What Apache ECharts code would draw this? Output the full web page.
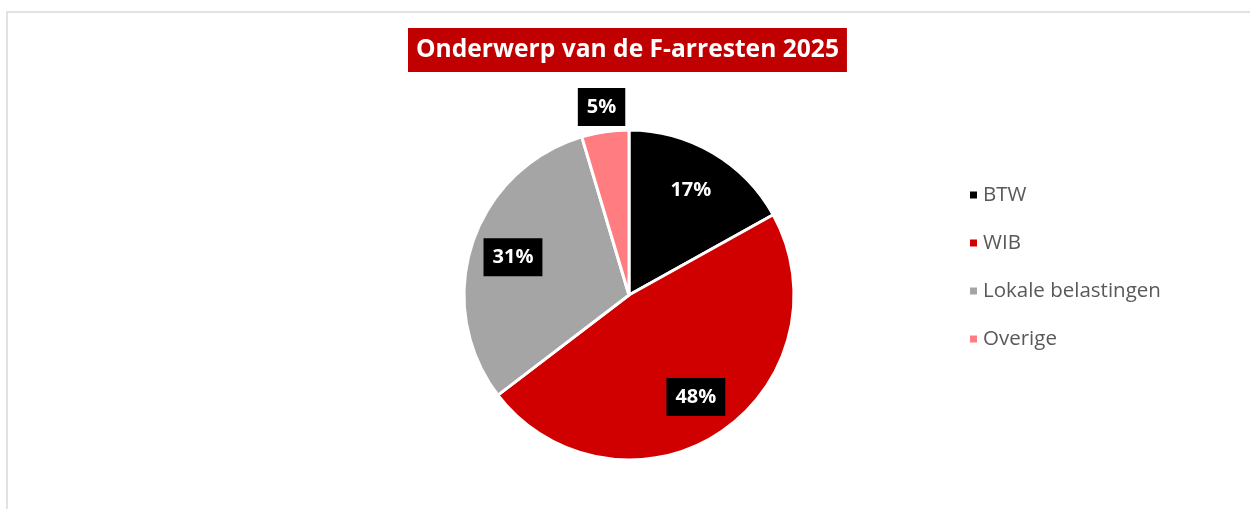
<!DOCTYPE html>
<html>
<head>
<meta charset="utf-8">
<script src="https://cdn.jsdelivr.net/npm/echarts@6/dist/echarts.min.js"></script>
<style>
  html, body { margin: 0; padding: 0; background: #fff; }
  #chart { width: 1250px; height: 509px; }
</style>
</head>
<body>
<div id="chart"></div>
<script>
const categories = ['BTW', 'WIB', 'Lokale belastingen', 'Overige']
const counts = [11, 31, 20, 3]
const colors = ['#000000', '#d00000', '#a5a5a5', '#ff7c80']

const chart = echarts.init(document.getElementById('chart'))

// labels of the big slices sit at ~0.74r, the small one just outside the pie
const data = categories.map((name, i) => {
  const outside = name === 'Overige'
  return {
    name,
    value: counts[i],
    labelLine: { show: false, length: outside ? 25 : -43, length2: 0 }
  }
})

chart.setOption({
  color: colors,
  animation: false,
  title: {
    text: 'Onderwerp van de F-arresten 2025',
    left: 408,
    top: 28,
    backgroundColor: '#c00000',
    padding: [9, 8, 9, 8],
    textStyle: {
      color: '#fff',
      fontFamily: 'Open Sans',
      fontWeight: 'bold',
      fontSize: 24.6,
      lineHeight: 26
    }
  },
  legend: {
    orient: 'vertical',
    left: 963,
    top: 178,
    icon: 'rect',
    itemWidth: 9,
    itemHeight: 9,
    itemGap: 24,
    data: categories,
    textStyle: {
      color: '#595959',
      fontFamily: 'Open Sans',
      fontSize: 20.5,
      lineHeight: 24
    }
  },
  graphic: [{
    type: 'rect',
    shape: { x: 7, y: 12, width: 1300, height: 600 },
    style: { fill: 'none', stroke: '#d9d9d9', lineWidth: 1.5 },
    silent: true
  }],
  series: [{
    type: 'pie',
    center: [629, 295],
    radius: 165,
    startAngle: 90,
    avoidLabelOverlap: false,
    itemStyle: { borderColor: '#fff', borderWidth: 3 },
    emphasis: { disabled: true },
    percentPrecision: 2,
    label: {
      show: true,
      position: 'outside',
      distanceToLabelLine: 0,
      formatter: p => Math.round(p.percent) + '%',
      color: '#fff',
      backgroundColor: '#000',
      fontFamily: 'Open Sans',
      fontWeight: 'bold',
      fontSize: 20,
      lineHeight: 22,
      padding: [8, 9, 8, 9]
    },
    labelLayout: function () {
      return { align: 'center' }
    },
    data: data
  }]
})
</script>
</body>
</html>
